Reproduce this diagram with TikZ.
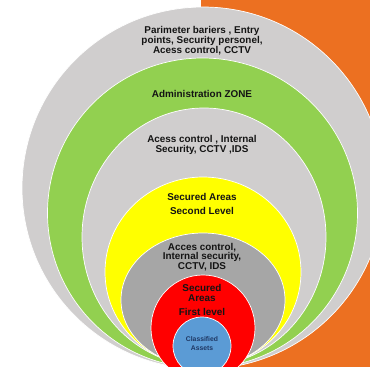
\documentclass[tikz,border=0pt]{standalone}
\usepackage{fontspec}
\setmainfont{Liberation Sans}
\usetikzlibrary{shapes.geometric}

\definecolor{ringgray}{RGB}{208,206,206}
\definecolor{ringgreen}{RGB}{146,208,80}
\definecolor{ringyellow}{RGB}{255,255,0}
\definecolor{ringdark}{RGB}{166,166,166}
\definecolor{ringred}{RGB}{255,0,0}
\definecolor{ringblue}{RGB}{91,155,213}
\definecolor{panelorange}{RGB}{236,112,33}
\definecolor{labelink}{RGB}{20,20,20}
\definecolor{assetink}{RGB}{31,56,100}

\begin{document}
\begin{tikzpicture}[x=1pt,y=-1pt,
  ring/.style={ellipse, inner sep=0pt, outer sep=0pt, draw=white, line width=0.7pt},
  lbl/.style={font=\bfseries\fontsize{9.9}{9.8}\selectfont, text=labelink,
              align=center, inner sep=0pt}]
\useasboundingbox (0,0) rectangle (370,367);

% orange side panel
\fill[panelorange] (201,0) rectangle (370,367);

% nested security zones, outermost first
\node[ring, fill=ringgray,   minimum width=362pt, minimum height=362pt] (perimeter) at (203,188) {};
\node[ring, fill=ringgreen,  minimum width=310pt, minimum height=310pt] (admin)     at (202.5,213) {};
\node[ring, fill=ringgray,   minimum width=244pt, minimum height=258pt] (internal)  at (204,237) {};
\node[ring, fill=ringyellow, minimum width=196pt, minimum height=190pt] (second)    at (203,272) {};
\node[ring, fill=ringdark,   minimum width=164pt, minimum height=134pt] (inner)     at (203,300) {};
\node[ring, fill=ringred,    minimum width=104pt, minimum height=106pt] (first)     at (203,328) {};
\node[ring, fill=ringblue,   minimum width=58pt,  minimum height=58pt]  (assets)    at (202,346) {};

% zone labels
\node[lbl] (tperimeter) at (202,40.5) {Parimeter bariers , Entry\\points, Security personel,\\Acess control, CCTV};
\node[lbl] (tadmin)     at (202,94)   {Administration ZONE};
\node[lbl] (tinternal)  at (202,145)  {Acess control , Internal\\Security, CCTV ,IDS};
\node[lbl] (tsecond)    at (202,204)  {Secured Areas\\[4.2pt]Second Level};
\node[lbl] (tinner)     at (202,257)  {Acces control,\\Internal security,\\CCTV, IDS};
\node[lbl] (tfirst)     at (202,300)  {Secured\\Areas\\[4.2pt]First level};
\node[lbl, text=assetink, font=\bfseries\fontsize{6.8}{9}\selectfont] (tassets) at (202,343.5) {Classified\\Assets};
\end{tikzpicture}
\end{document}
